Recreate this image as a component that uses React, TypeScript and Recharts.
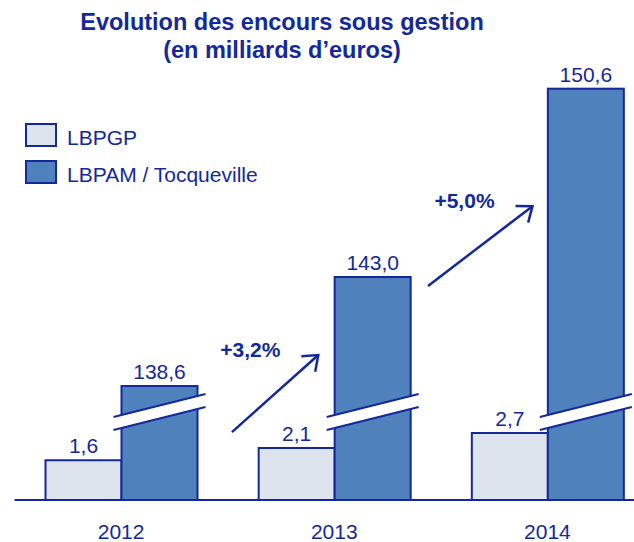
import { BarChart, Bar, XAxis, YAxis, LabelList, Legend, ReferenceLine } from "recharts";

const YEARS = ["2012", "2013", "2014"];
const LBPGP = [1.6, 2.1, 2.7];
const LBPAM = [138.6, 143.0, 150.6];
const GROWTH = ["+3,2%", "+5,0%"];

// LBPAM bars sit on a broken scale: CUT is removed below the break
const CUT = 134;
const BREAK_AT = 3.55;

const C = {
  dark: "#13299B",
  light: "#DEE4EE",
  mid: "#4F81BD",
};
const FONT = "'Liberation Sans', Arial, sans-serif";

const SERIES = [
  { key: "lbpgp", name: "LBPGP", fill: C.light },
  { key: "lbpam", name: "LBPAM / Tocqueville", fill: C.mid },
];

// arrow geometry in (band index, display units)
const ARROWS = [
  { from: { x: 1.02, y: 2.74 }, to: { x: 1.425, y: 5.85 } },
  { from: { x: 1.94, y: 8.64 }, to: { x: 2.43, y: 11.86 } },
];

const rows = YEARS.map((year, i) => ({
  year,
  band: i + 0.5,
  lbpgp: LBPGP[i],
  lbpam: LBPAM[i] - CUT,
  lbpamReal: LBPAM[i],
}));

const fmt = (v: any) => Number(v).toFixed(1).replace(".", ",");

function BrokenBar(props: any) {
  const { x, y, width, height, fill, payload } = props;
  const base = y + height;
  const k = height / payload.lbpam;
  const cy = base - BREAK_AT * k;
  const cx = x + width / 2;
  const x0 = x - 8;
  const x1 = x + width + 8;
  const at = (xx: number, d: number) => cy + d - 0.25 * (xx - cx);
  return (
    <g>
      <rect x={x} y={y} width={width} height={height} fill={fill} stroke={C.dark} strokeWidth={2} />
      <polygon
        points={`${x0},${at(x0, -6.5)} ${x1},${at(x1, -6.5)} ${x1},${at(x1, 6.5)} ${x0},${at(x0, 6.5)}`}
        fill="#fff"
      />
      <line x1={x0} y1={at(x0, -6.5)} x2={x1} y2={at(x1, -6.5)} stroke={C.dark} strokeWidth={2} />
      <line x1={x0} y1={at(x0, 6.5)} x2={x1} y2={at(x1, 6.5)} stroke={C.dark} strokeWidth={2} />
    </g>
  );
}

const arrowShape = (label: string) => (p: any) => {
  const { x1, y1, x2, y2 } = p;
  const back = Math.atan2(y1 - y2, x1 - x2);
  const w = 17;
  const a = back - 0.66;
  const b = back + 0.66;
  return (
    <g>
      <line x1={x1} y1={y1} x2={x2} y2={y2} stroke={C.dark} strokeWidth={2.5} />
      <polyline
        points={`${x2 + w * Math.cos(a)},${y2 + w * Math.sin(a)} ${x2},${y2} ${x2 + w * Math.cos(b)},${y2 + w * Math.sin(b)}`}
        fill="none"
        stroke={C.dark}
        strokeWidth={2.5}
      />
      <text x={x2 - 68} y={y2 + 2} textAnchor="middle" fill={C.dark} fontSize={21} fontWeight="bold">
        {label}
      </text>
    </g>
  );
};

function LegendBox() {
  return (
    <div style={{ fontFamily: FONT }}>
      {SERIES.map((s) => (
        <div key={s.key} style={{ display: "flex", alignItems: "flex-start", height: 24, marginBottom: 13 }}>
          <span
            style={{
              width: 32,
              height: 24,
              boxSizing: "border-box",
              border: `2px solid ${C.dark}`,
              background: s.fill,
            }}
          />
          <span style={{ marginLeft: 10, marginTop: 3, fontSize: 21, lineHeight: "24px", color: C.dark, whiteSpace: "nowrap" }}>
            {s.name}
          </span>
        </div>
      ))}
    </div>
  );
}

const YearTick = (p: any) => (
  <text x={p.x} y={p.y} textAnchor="middle" fill={C.dark} fontSize={21}>
    {p.payload.value}
  </text>
);

export default function App() {
  return (
    <div
      style={{
        position: "absolute",
        left: 0,
        top: 0,
        width: 634,
        height: 542,
        overflow: "hidden",
        background: "#fff",
        fontFamily: FONT,
      }}
    >
      <div
        style={{
          position: "absolute",
          left: 0,
          top: 8,
          width: 564,
          textAlign: "center",
          fontWeight: "bold",
          fontSize: 23.5,
          lineHeight: "28px",
          color: C.dark,
        }}
      >
        Evolution des encours sous gestion
        <br />
        (en milliards d’euros)
      </div>
      <BarChart
        width={654}
        height={542}
        data={rows}
        margin={{ top: 54, right: 0, bottom: 0, left: 14.5 }}
        barGap={0}
        barSize={76}
        style={{ fontFamily: FONT }}
      >
        <XAxis
          xAxisId="cat"
          dataKey="year"
          height={42}
          axisLine={{ stroke: C.dark, strokeWidth: 2 }}
          tickLine={false}
          tickSize={0}
          tickMargin={39}
          tick={YearTick}
          interval={0}
        />
        <XAxis xAxisId="num" dataKey="band" type="number" domain={[0, 3]} allowDataOverflow hide />
        <YAxis yAxisId="v" domain={[0, 18]} allowDataOverflow hide />
        <Legend
          layout="horizontal"
          verticalAlign="middle"
          align="center"
          wrapperStyle={{ top: 123, left: 25, width: 280 }}
          content={() => <LegendBox />}
        />
        <Bar
          xAxisId="cat"
          yAxisId="v"
          dataKey="lbpgp"
          name="LBPGP"
          fill={C.light}
          stroke={C.dark}
          strokeWidth={2}
          isAnimationActive={false}
        >
          <LabelList dataKey="lbpgp" position="top" offset={7} formatter={fmt} fill={C.dark} fontSize={21} />
        </Bar>
        <Bar
          xAxisId="cat"
          yAxisId="v"
          dataKey="lbpam"
          name="LBPAM / Tocqueville"
          fill={C.mid}
          stroke={C.dark}
          strokeWidth={2}
          shape={BrokenBar}
          isAnimationActive={false}
        >
          <LabelList dataKey="lbpamReal" position="top" offset={7} formatter={fmt} fill={C.dark} fontSize={21} />
        </Bar>
        {ARROWS.map((a, i) => (
          <ReferenceLine
            key={i}
            xAxisId="num"
            yAxisId="v"
            segment={[a.from, a.to]}
            ifOverflow="visible"
            shape={arrowShape(GROWTH[i])}
          />
        ))}
      </BarChart>
    </div>
  );
}
